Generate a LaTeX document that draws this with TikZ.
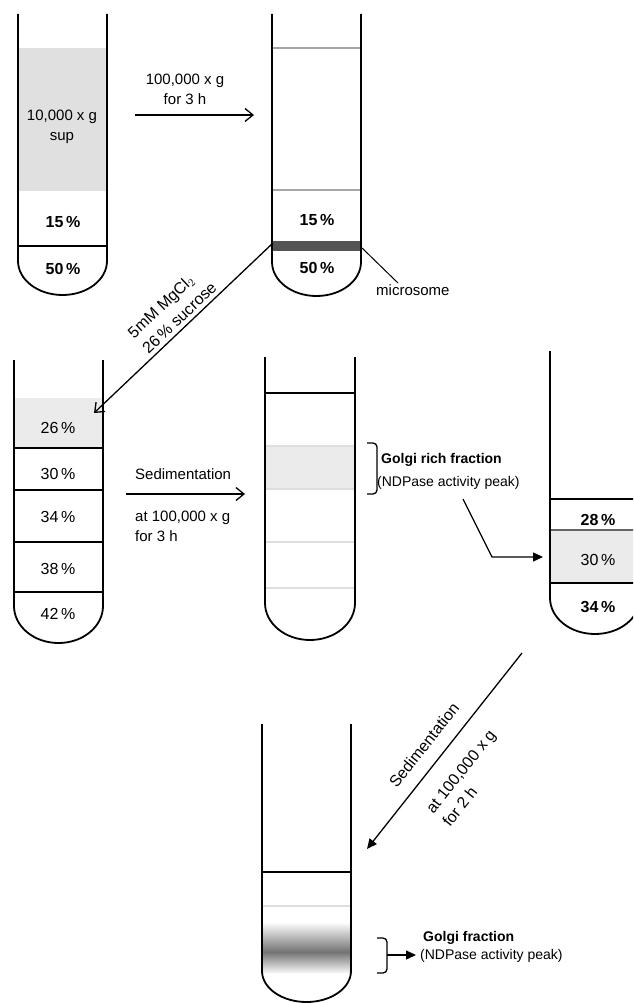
\documentclass[tikz,border=0pt]{standalone}
\usepackage{fontspec}
\setmainfont{Liberation Sans}
\usetikzlibrary{arrows.meta,calc}

\newcommand\mytube[5]{%
  \pgfmathsetmacro\tbc{(#1+#2)/2}%
  \pgfmathsetmacro\tbrx{(#2-#1)/2}%
  \pgfmathsetmacro\tbry{#5-#4}%
  \draw[wall] (#1,#3) -- (#1,#4)
    .. controls (#1,{#4+0.5523*\tbry}) and ({\tbc-0.5523*\tbrx},#5) .. (\tbc,#5)
    .. controls ({\tbc+0.5523*\tbrx},#5) and (#2,{#4+0.5523*\tbry}) .. (#2,#4)
    -- (#2,#3);%
}
\newcommand\pc{\kern2.5pt\%}

\tikzset{
  wall/.style={line width=1.8pt, black},
  blk/.style={line width=1.2pt, black},
  gln/.style={line width=1.4pt, black!35},
  lgln/.style={line width=1.2pt, black!13},
  pct/.style={font=\fontsize{16}{19}\selectfont, inner sep=1pt},
  pctb/.style={font=\fontsize{16}{19}\selectfont\bfseries, inner sep=1pt},
  lbl/.style={font=\fontsize{15}{20}\selectfont, inner sep=1pt},
  rlbl/.style={font=\fontsize{16}{21}\selectfont, inner sep=1pt},
  lblb/.style={font=\fontsize{14}{17}\selectfont\bfseries, inner sep=1pt, anchor=west},
  lbls/.style={font=\fontsize{14}{17}\selectfont, inner sep=1pt, anchor=west},
  openarr/.style={line width=1.3pt, -{Straight Barb[length=8pt,width=13pt,line width=1.3pt]}},
  fillarr/.style={line width=1.3pt, -{Triangle[length=10pt,width=9pt]}},
  brk/.style={line width=1.3pt, rounded corners=4pt},
}

\begin{document}
\begin{tikzpicture}[x=1pt,y=-1pt]
\useasboundingbox (0,0) rectangle (633,1003);
\clip (0,0) rectangle (633,1003);

% ---------- Tube 1 ----------
\fill[black!12] (18,48) rectangle (107,191);
\draw[blk] (18,246) -- (107,246);
\mytube{18}{107}{14}{261}{295}
\node[lbl, align=center] (t1sup) at (62,127) {10,000 x g\\sup};
\node[pctb] (t1a) at (63,222) {15\pc};
\node[pctb] (t1b) at (63,269) {50\pc};

% ---------- Arrow 1 ----------
\node[lbl, align=center] (a1lbl) at (185,89) {100,000 x g\\for 3 h};
\coordinate (a1s) at (135,115);
\coordinate (a1e) at (254,115);
\draw[openarr] (a1s) -- (a1e);

% ---------- Tube 2 ----------
\fill[black!67] (272,241) rectangle (361,251);
\draw[gln] (272,48) -- (361,48);
\draw[gln] (272,190) -- (361,190);
\mytube{272}{361}{14}{262}{296}
\node[pctb] (t2a) at (317,220) {15\pc};
\node[pctb] (t2b) at (317,268) {50\pc};
\coordinate (micst) at (361,247);
\coordinate (micend) at (398,283);
\node[lbl, anchor=west] (micro) at (375,290) {microsome};
\draw[line width=1pt] (micst) -- (micend);

% ---------- Tube 3 ----------
\fill[black!8] (14,398) rectangle (103,448);
\draw[blk] (14,448) -- (103,448);
\draw[blk] (14,490) -- (103,490);
\draw[blk] (14,542) -- (103,542);
\draw[blk] (14,592) -- (103,592);
\mytube{14}{103}{360}{606}{643}
\node[pct] (t3a) at (58,428) {26\pc};
\node[pct] (t3b) at (58,474) {30\pc};
\node[pct] (t3c) at (58,517) {34\pc};
\node[pct] (t3d) at (58,569) {38\pc};
\node[pct] (t3e) at (58,614) {42\pc};

% ---------- Diagonal arrow 1 ----------
\coordinate (d1s) at (273,243);
\coordinate (d1e) at (94,413);
\draw[openarr] (d1s) -- (d1e);
\node[rlbl, align=left, rotate=43.3] (d1lbl) at (172,310) {5mM MgCl$_2$\\26\pc{} sucrose};

% ---------- Arrow 2 ----------
\node[lbl, anchor=west] (a2top) at (134,474) {Sedimentation};
\node[lbl, anchor=west, align=left] (a2bot) at (134,526) {at 100,000 x g\\for 3 h};
\coordinate (a2s) at (126,494);
\coordinate (a2e) at (245,494);
\draw[openarr] (a2s) -- (a2e);

% ---------- Tube 4 ----------
\fill[black!8] (265,446) rectangle (355,489);
\draw[lgln] (265,446) -- (355,446);
\draw[lgln] (265,489) -- (355,489);
\draw[blk] (265,393) -- (355,393);
\draw[lgln] (265,542) -- (355,542);
\draw[lgln] (265,588) -- (355,588);
\mytube{265}{355}{357}{603}{640}
\draw[brk] (367,443) -- (377,443) -- (377,494) -- (367,494);
\node[lblb] (grf) at (380,460) {Golgi rich fraction};
\node[lbls] (grf2) at (376,483) {(NDPase activity peak)};
\coordinate (g1s) at (463,499);
\coordinate (g1m) at (492,557);
\coordinate (g1e) at (543,557);
\draw[fillarr] (g1s) -- (g1m) -- (g1e);

% ---------- Tube 5 ----------
\fill[black!8] (550,530) rectangle (640,583);
\draw[blk] (550,499) -- (640,499);
\draw[line width=1.2pt, black!60] (550,530) -- (640,530);
\draw[blk] (550,583) -- (640,583);
\mytube{550}{640}{351}{598}{634}
\node[pctb] (t5a) at (598,520) {28\pc};
\node[pct] (t5b) at (598,560) {30\pc};
\node[pctb] (t5c) at (598,607) {34\pc};

% ---------- Arrow 3 ----------
\coordinate (d2s) at (522,653);
\coordinate (d2e) at (367,849);
\draw[fillarr] (d2s) -- (d2e);
\node[rlbl, rotate=51.7] (d2a) at (424,745) {Sedimentation};
\node[rlbl, align=left, rotate=51.7] (d2b) at (469,778) {at 100,000 x g\\for 2 h};

% ---------- Tube 6 ----------
\shade[top color=white, bottom color=black!55] (262,922) rectangle (351,952);
\shade[top color=black!55, bottom color=white] (262,952) rectangle (351,974);
\draw[blk] (262,872) -- (351,872);
\draw[lgln] (262,906) -- (351,906);
\mytube{262}{351}{724}{971}{1002}
\draw[brk] (377,938) -- (387,938) -- (387,973) -- (377,973);
\coordinate (b2m) at (387,955);
\coordinate (b2e) at (416,955);
\draw[fillarr] (b2m) -- (b2e);
\node[lblb] (gf) at (422,938) {Golgi fraction};
\node[lbls] (gf2) at (419,956) {(NDPase activity peak)};
\end{tikzpicture}
\end{document}
